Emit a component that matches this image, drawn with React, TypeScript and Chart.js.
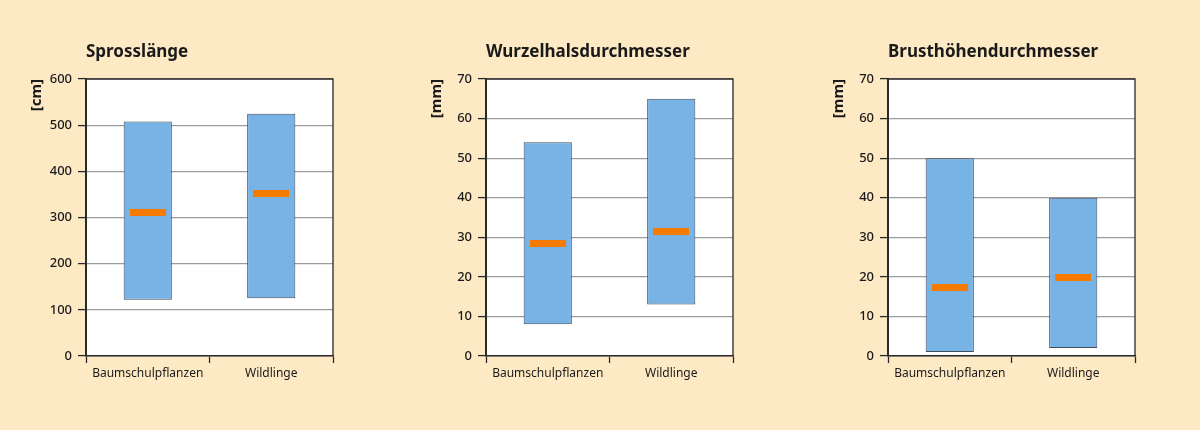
import React, { useEffect, useRef } from "react";
import { Chart, registerables } from "chart.js";

Chart.register(...registerables);

// Categories shared by all three panels
const categories = ["Baumschulpflanzen", "Wildlinge"];

// Sprosslänge [cm]: min–max ranges and medians
const sprossRange = [
  [122, 508],
  [125, 525],
];
const sprossMedian = [310, 352];

// Wurzelhalsdurchmesser [mm]
const wurzelRange = [
  [8, 54],
  [13, 65],
];
const wurzelMedian = [28.5, 31.4];

// Brusthöhendurchmesser [mm]
const brustRange = [
  [1, 50],
  [2, 40],
];
const brustMedian = [17.3, 19.8];

const titles = ["Sprosslänge", "Wurzelhalsdurchmesser", "Brusthöhendurchmesser"];
const units = ["[cm]", "[mm]", "[mm]"];
const axisMax = [600, 70, 70];
const axisStep = [100, 10, 10];

const BG = "#fdeac4";
const BAR_FILL = "#78b3e6";
const BAR_EDGE = "#3d4b5c";
const MEDIAN = "#f47b00";
const DARK = "#2a2a2a";
const GRID = "#9c9c9c";
const TEXT = "#1a1a1a";
const FONT = "'Noto Sans', 'Open Sans', sans-serif";

// White plot area plus frame on the top and right edges
const framePlugin = {
  id: "plotFrame",
  beforeDraw(chart: any) {
    const { ctx, chartArea: a } = chart;
    ctx.save();
    ctx.fillStyle = "#ffffff";
    ctx.fillRect(a.left, a.top, a.right - a.left, a.bottom - a.top);
    ctx.restore();
  },
  afterDraw(chart: any) {
    const { ctx, chartArea: a } = chart;
    ctx.save();
    ctx.strokeStyle = DARK;
    ctx.lineWidth = 1.3;
    ctx.beginPath();
    ctx.moveTo(a.left, a.top);
    ctx.lineTo(a.right, a.top);
    ctx.lineTo(a.right, a.bottom);
    ctx.stroke();
    ctx.restore();
  },
};

function makeMedianMark(): HTMLCanvasElement {
  const c = document.createElement("canvas");
  c.width = 36;
  c.height = 7;
  const g = c.getContext("2d")!;
  g.fillStyle = MEDIAN;
  g.fillRect(0, 0, 36, 7);
  return c;
}

type PanelProps = {
  title: string;
  unit: string;
  range: number[][];
  median: number[];
  max: number;
  step: number;
  left: number;
};

function Panel({ title, unit, range, median, max, step, left }: PanelProps) {
  const ref = useRef<HTMLCanvasElement | null>(null);

  useEffect(() => {
    if (!ref.current) return;
    const mark = makeMedianMark();
    const chart = new Chart(ref.current, {
      type: "bar",
      data: {
        labels: categories,
        datasets: [
          {
            type: "line",
            data: median,
            showLine: false,
            pointStyle: mark as any,
            pointRadius: 4,
            pointHoverRadius: 4,
            order: 0,
          } as any,
          {
            type: "bar",
            data: range as any,
            backgroundColor: BAR_FILL,
            borderColor: BAR_EDGE,
            borderWidth: 1,
            borderSkipped: false,
            barPercentage: 0.39,
            categoryPercentage: 1,
            order: 1,
          } as any,
        ],
      },
      options: {
        animation: false,
        responsive: false,
        layout: { padding: { left: 25, right: 67, top: 42, bottom: 44 } },
        plugins: {
          legend: { display: false },
          tooltip: { enabled: false },
          title: {
            display: true,
            text: title,
            align: "start",
            fullSize: false,
            color: TEXT,
            font: { family: FONT, size: 17, weight: "bold" },
            padding: { top: 0, bottom: 16.6 },
          },
        },
        scales: {
          x: {
            type: "category",
            offset: true,
            afterFit(scale: any) {
              scale.height = 30;
            },
            grid: {
              offset: true,
              drawOnChartArea: false,
              drawTicks: true,
              tickLength: 7,
              tickColor: DARK,
              tickWidth: 1.3,
            },
            border: { display: true, color: DARK, width: 1.5 },
            ticks: {
              color: TEXT,
              padding: 3,
              font: { family: FONT, size: 12 },
            },
          },
          y: {
            min: 0,
            max: max,
            afterFit(scale: any) {
              scale.width = 61;
            },
            grid: {
              color: GRID,
              lineWidth: 1.2,
              drawTicks: true,
              tickLength: 8,
              tickColor: DARK,
              tickWidth: 1.3,
            },
            border: { display: true, color: DARK, width: 2 },
            ticks: {
              stepSize: step,
              color: TEXT,
              padding: 6,
              font: { family: FONT, size: 13, weight: "500" },
            },
            title: {
              display: true,
              text: unit,
              align: "end",
              color: TEXT,
              font: { family: FONT, size: 15, weight: "bold" },
              padding: { top: 3, bottom: 0 },
            },
          },
        },
      },
      plugins: [framePlugin],
    });
    return () => chart.destroy();
  }, []);

  return (
    <canvas
      ref={ref}
      width={400}
      height={430}
      style={{ position: "absolute", left, top: 0, width: 400, height: 430 }}
    />
  );
}

export default function App() {
  const ranges = [sprossRange, wurzelRange, brustRange];
  const medians = [sprossMedian, wurzelMedian, brustMedian];
  const lefts = [0, 400, 802];
  return (
    <div
      style={{
        position: "fixed",
        left: 0,
        top: 0,
        width: 1200,
        height: 430,
        background: BG,
        overflow: "hidden",
      }}
    >
      {titles.map((t, i) => (
        <Panel
          key={t}
          title={t}
          unit={units[i]}
          range={ranges[i]}
          median={medians[i]}
          max={axisMax[i]}
          step={axisStep[i]}
          left={lefts[i]}
        />
      ))}
    </div>
  );
}
